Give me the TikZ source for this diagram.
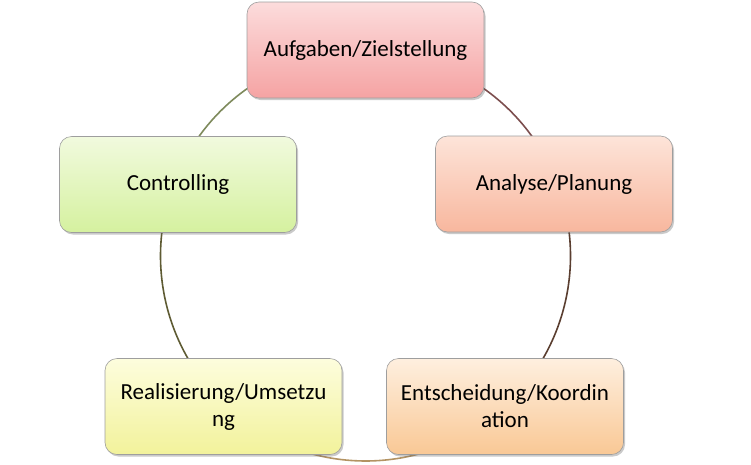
\documentclass[tikz,border=0pt]{standalone}
\usepackage{fontspec}
\setmainfont{Carlito}
\usetikzlibrary{shadows}
\definecolor{aufT}{HTML}{FCDCDC}\definecolor{aufB}{HTML}{F5A3A3}
\definecolor{anaT}{HTML}{FDE4D9}\definecolor{anaB}{HTML}{F8B79E}
\definecolor{entT}{HTML}{FEEFDF}\definecolor{entB}{HTML}{F9C895}
\definecolor{reaT}{HTML}{FDFDDD}\definecolor{reaB}{HTML}{F2F29B}
\definecolor{conT}{HTML}{F1FADE}\definecolor{conB}{HTML}{D5F19F}
\definecolor{arcA}{HTML}{7E8A5C}
\definecolor{arcB}{HTML}{7C4E4E}
\definecolor{arcC}{HTML}{5A3E30}
\definecolor{arcD}{HTML}{B39363}
\definecolor{arcE}{HTML}{5E5B33}
\tikzset{
  stagebox/.style={rounded corners=12pt, draw=black!38, line width=0.6pt,
    minimum width=237pt, minimum height=96pt, inner sep=2pt,
    align=center, text width=230pt,
    font=\fontsize{23}{27}\selectfont,
    drop shadow={shadow xshift=1.5pt, shadow yshift=-2pt, opacity=0.35, fill=black!60}},
  ring/.style={line width=1.6pt}
}
\begin{document}
\begin{tikzpicture}[x=1pt,y=-1pt]
\useasboundingbox (0,0) rectangle (751,464);
\coordinate (ctr) at (365.5,256);
% ring segments
\draw[ring, arcA] (ctr) ++(200.9:205) arc[start angle=200.9, end angle=270, radius=205];
\draw[ring, arcB] (ctr) ++(-90:205) arc[start angle=-90, end angle=-20.9, radius=205];
\draw[ring, arcC] (ctr) ++(-20.9:205) arc[start angle=-20.9, end angle=47.1, radius=205];
\draw[ring, arcD] (ctr) ++(47.1:205) arc[start angle=47.1, end angle=133.2, radius=205];
\draw[ring, arcE] (ctr) ++(133.2:205) arc[start angle=133.2, end angle=200.9, radius=205];
% boxes
\node[stagebox, top color=aufT, bottom color=aufB] (auf) at (365.5,50) {Aufgaben/Zielstellung};
\node[stagebox, top color=anaT, bottom color=anaB] (ana) at (554,184) {Analyse/Planung};
\node[stagebox, top color=entT, bottom color=entB] (ent) at (505,406.5) {Entscheidung/Koordin\\ation};
\node[stagebox, top color=reaT, bottom color=reaB] (rea) at (223.5,406.5) {Realisierung/Umsetzu\\ng};
\node[stagebox, top color=conT, bottom color=conB] (con) at (178,184.5) {Controlling};
\end{tikzpicture}
\end{document}
